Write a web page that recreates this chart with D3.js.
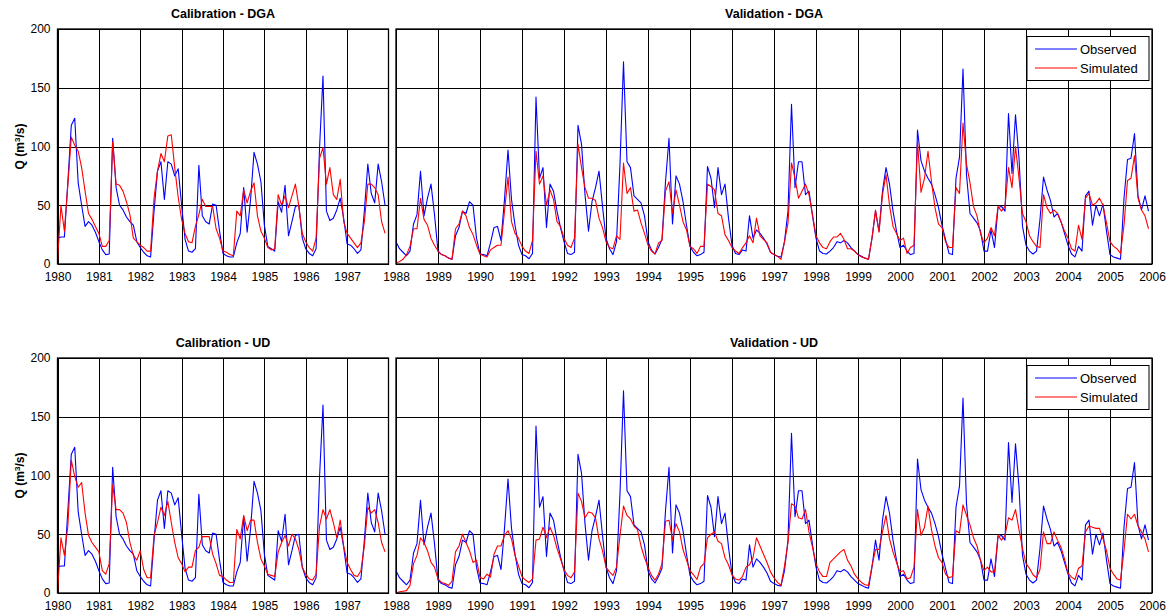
<!DOCTYPE html>
<html>
<head>
<meta charset="utf-8">
<script src="https://cdn.jsdelivr.net/npm/d3@7/dist/d3.min.js"></script>
<style>
  body { margin: 0; background: #fff; }
  svg { font-family: "Liberation Sans", Arial, sans-serif; }
</style>
</head>
<body>
<svg id="chart" width="1171" height="613"></svg>
<script>
// monthly discharge, m3/s
const calYears = [1980, 1988];
const valYears = [1988, 2006];
const yTicks = [0, 50, 100, 150, 200];

const calObserved = [
    22, 23, 23, 70, 118, 124, 69, 50, 32, 36, 33, 27,
    19, 12, 8, 8.5, 107, 65, 50, 46, 40, 36, 33, 19,
    14, 10, 7, 6, 45, 79, 87, 55, 87, 85, 75, 81,
    50, 21, 11, 10, 13, 84, 41, 36, 34, 51, 50, 28,
    9, 7, 6, 6, 18, 26, 65, 27, 55, 95, 85, 70,
    33, 15, 13, 11, 53, 44, 67, 24, 36, 49, 50, 22,
    13, 9, 7, 13, 99, 160, 45, 37, 39, 46, 56, 39,
    17, 16, 13, 9, 12, 45, 85, 60, 52, 85, 70, 50
];
const calSimDGA = [
    2, 50, 28, 67, 108, 101, 96, 82, 62, 43, 38, 32,
    26, 15, 15, 20, 104, 68, 67, 62, 53, 42, 22, 19,
    16, 14, 11, 11, 56, 79, 94, 87, 109, 110, 82, 57,
    38, 26, 19, 18, 32, 42, 55, 49, 49, 49, 30, 22,
    11, 10, 8, 7, 45, 41, 63, 52, 62, 69, 41, 28,
    22, 14, 12, 13, 59, 50, 58, 48, 58, 68, 49, 26,
    19, 14, 11, 22, 90, 99, 68, 82, 59, 55, 72, 36,
    26, 22, 18, 14, 18, 36, 68, 68, 65, 59, 36, 26
];
const calSimUD = [
    0, 47, 32, 57, 113, 99, 90, 94, 68, 49, 43, 39,
    35, 19, 16, 25, 92, 71, 71, 68, 60, 43, 32, 28,
    36, 20, 13, 13, 49, 60, 73, 66, 78, 60, 43, 30,
    25, 18, 22, 22, 36, 39, 48, 48, 48, 33, 25, 15,
    14, 11, 9, 9, 54, 46, 66, 53, 62, 62, 43, 29,
    23, 16, 15, 14, 35, 43, 49, 40, 50, 46, 37, 22,
    16, 12, 11, 16, 57, 71, 63, 71, 60, 47, 62, 40,
    26, 20, 15, 14, 19, 40, 73, 68, 71, 60, 43, 35
];

const valObserved = [
    19, 13, 10, 7, 11, 34, 42, 79, 41, 56, 68, 42,
    11, 8, 7, 5, 4, 24, 31, 45, 43, 53, 50, 22,
    8.5, 8, 7, 18, 31, 32, 20, 55, 97, 55, 33, 16,
    8, 7, 4.5, 9, 142, 73, 82, 31, 68, 62, 45, 31,
    19, 9, 8, 10, 118, 102, 59, 28, 53, 65, 79, 49,
    22, 13, 8, 19, 85, 172, 87, 82, 58, 55, 52, 41,
    19, 12, 8.5, 14, 21, 70, 107, 34, 75, 68, 53, 33,
    15, 10, 7, 8, 10, 83, 73, 48, 82, 59, 68, 39,
    16, 9, 8, 12, 11, 41, 22, 29, 26, 22, 17, 10,
    8, 6.5, 6, 19, 45, 136, 65, 87, 87, 59, 62, 41,
    22, 11, 9, 8.5, 11, 14, 19, 18, 20, 18, 14, 11,
    8, 6.5, 5, 4, 22, 45, 28, 62, 82, 68, 45, 28,
    14, 16, 11, 8, 9, 114, 88, 79, 73, 68, 59, 48,
    33, 21, 9, 8, 73, 91, 166, 76, 43, 39, 35, 28,
    11, 11, 29, 14, 48, 49, 45, 128, 77, 127, 90, 32,
    16, 11, 8.5, 11, 38, 74, 63, 54, 40, 43, 36, 26,
    16, 8.5, 6, 15, 11, 58, 62, 33, 50, 41, 51, 28,
    8, 6, 5, 4, 56, 89, 90, 111, 58, 46, 58, 45
];
const valSimDGA = [
    1, 2, 4, 8, 15, 30, 30, 56, 38, 33, 22, 16,
    11, 8, 7, 5, 4, 30, 34, 45, 41, 31, 25, 16,
    8.5, 7, 6, 12, 14, 16, 16, 45, 74, 36, 26, 22,
    15, 11, 9, 20, 96, 68, 75, 50, 63, 55, 36, 32,
    22, 16, 14, 22, 102, 82, 65, 56, 56, 54, 39, 31,
    19, 14, 13, 24, 21, 86, 60, 65, 45, 46, 35, 26,
    16, 11, 8.5, 18, 20, 62, 70, 43, 63, 50, 36, 29,
    15, 13, 9, 15, 15, 68, 66, 63, 43, 41, 25, 20,
    14, 11, 9, 14, 18, 24, 18, 39, 24, 21, 18, 10,
    8, 6.5, 4, 19, 35, 86, 73, 56, 62, 68, 59, 42,
    24, 18, 14, 13, 19, 23, 23, 26, 21, 13, 13, 11,
    8, 6, 5, 4, 22, 46, 27, 59, 76, 50, 32, 26,
    20, 22, 9, 14, 16, 104, 61, 73, 96, 70, 48, 34,
    31, 19, 14, 14, 65, 60, 120, 85, 69, 49, 41, 26,
    18, 22, 31, 24, 49, 45, 49, 82, 65, 100, 73, 43,
    36, 24, 19, 15, 14, 59, 48, 43, 46, 43, 36, 28,
    22, 13, 11, 33, 21, 56, 60, 50, 52, 56, 50, 35,
    19, 15, 13, 9, 33, 71, 73, 92, 56, 46, 41, 30
];
const valSimUD = [
    0, 1, 1.5, 2, 6.5, 25, 32, 47, 43, 36, 26, 22,
    12, 9, 8, 6.5, 10, 35, 40, 50, 43, 36, 26, 28,
    13.5, 12, 16, 13.5, 33, 40, 40, 49, 53, 46, 32, 23,
    14, 11, 9, 12, 45, 46, 56, 47, 56, 49, 38, 29,
    20, 15, 13, 18, 85, 78, 64, 69, 68, 64, 46, 36,
    22, 18, 15, 22, 49, 74, 66, 63, 57, 54, 40, 30,
    22, 15, 11, 16, 25, 61, 62, 45, 59, 52, 37, 28,
    19, 15.5, 11.5, 22, 25, 47, 50, 52, 44, 42, 30, 24,
    15.5, 12, 11, 14, 22, 24, 30, 47, 40, 33, 26, 18,
    13, 9, 6.5, 23, 43, 76, 74, 64, 63, 71, 52, 39,
    25, 18, 14, 14, 26, 29, 32, 35, 37, 28, 23, 16,
    12, 9, 7, 6.5, 23, 37, 37, 52, 66, 46, 35, 26,
    18, 19, 12, 13, 22, 71, 49, 56, 74, 54, 40, 30,
    26, 16, 13, 14, 53, 51, 75, 66, 58, 47, 40, 28,
    19, 22, 18, 18, 49, 45, 49, 64, 62, 71, 54, 38,
    25, 21, 15.5, 13, 20, 52, 42, 42, 52, 45, 39, 29,
    17, 13.5, 11.5, 21, 23, 52, 57, 56, 55, 55, 46, 36,
    21, 16, 12, 11, 36, 67, 63, 67, 57, 52, 46, 35
];

const seriesNames = ["Observed", "Simulated"];
const seriesColors = ["#0000ff", "#ff0000"];

// layout of the four axes
const plotH = 235;
const panels = [
    {title: "Calibration - DGA", years: calYears, obs: calObserved, sim: calSimDGA, left: 57.5, right: 388.5, top: 29, first: true},
    {title: "Validation - DGA", years: valYears, obs: valObserved, sim: valSimDGA, left: 396, right: 1152, top: 29, first: false},
    {title: "Calibration - UD", years: calYears, obs: calObserved, sim: calSimUD, left: 57.5, right: 388.5, top: 358, first: true},
    {title: "Validation - UD", years: valYears, obs: valObserved, sim: valSimUD, left: 396, right: 1152, top: 358, first: false}
];

const svg = d3.select("#chart");

function drawPanel(p) {
    var x = d3.scaleLinear().domain(p.years).range([p.left, p.right]);
    var y = d3.scaleLinear().domain([0, 200]).range([p.top + plotH, p.top]);
    var g = svg.append("g");

    // x grid + labels (left panel stops before 1988, the right panel prints it)
    var xt = d3.range(p.years[0], p.years[1] + (p.first ? 0 : 1));
    var xa = g.append("g")
        .attr("transform", `translate(0,${p.top + plotH})`)
        .call(d3.axisBottom(x).tickValues(xt).tickFormat(d3.format("d"))
            .tickSizeInner(-plotH).tickSizeOuter(0).tickPadding(8));
    xa.select(".domain").remove();
    xa.selectAll("line").attr("stroke", "#000").attr("shape-rendering", "crispEdges");
    xa.selectAll("text").attr("font-size", 12).attr("fill", "#000")
        .attr("font-family", "'Liberation Sans', Arial, sans-serif");

    // y grid, labels only on the left axes
    var ya = g.append("g")
        .attr("transform", `translate(${p.left},0)`)
        .call(d3.axisLeft(y).tickValues(yTicks)
            .tickFormat(p.first ? d3.format("d") : "")
            .tickSizeInner(-(p.right - p.left)).tickSizeOuter(0).tickPadding(7));
    ya.select(".domain").remove();
    ya.selectAll("line").attr("stroke", "#000").attr("shape-rendering", "crispEdges");
    ya.selectAll("text").attr("font-size", 12).attr("fill", "#000")
        .attr("font-family", "'Liberation Sans', Arial, sans-serif");

    // series
    var line = d3.line()
        .x(function(d, i) { return x(p.years[0] + i / 12); })
        .y(function(d) { return y(d); });
    [p.obs, p.sim].forEach(function(s, k) {
        g.append("path").datum(s)
            .attr("d", line)
            .attr("fill", "none")
            .attr("stroke", seriesColors[k])
            .attr("stroke-width", 1.1)
            .attr("stroke-linejoin", "round");
    });

    // box
    g.append("rect")
        .attr("x", p.left).attr("y", p.top)
        .attr("width", p.right - p.left).attr("height", plotH)
        .attr("fill", "none").attr("stroke", "#000").attr("stroke-width", 1.3);

    // title
    g.append("text")
        .attr("x", (p.left + p.right) / 2).attr("y", p.top - 11)
        .attr("text-anchor", "middle").attr("font-size", 12.5).attr("font-weight", "bold")
        .text(p.title);

    if (p.first) {
        // y label sits left of the tick labels
        var lab = g.append("text")
            .attr("transform", `translate(24,${p.top + plotH / 2}) rotate(-90)`)
            .attr("text-anchor", "middle").attr("font-size", 12).attr("font-weight", "bold");
        lab.append("tspan").text("Q (m");
        lab.append("tspan").attr("dy", -4).attr("font-size", 8).text("3");
        lab.append("tspan").attr("dy", 4).text("/s)");
    } else {
        // legend
        var lx = p.right - 125, ly = p.top + 7.5;
        var lg = g.append("g");
        lg.append("rect").attr("x", lx).attr("y", ly).attr("width", 122).attr("height", 44)
            .attr("fill", "#fff").attr("stroke", "#000").attr("stroke-width", 1);
        seriesNames.forEach(function(name, k) {
            var yy = ly + 12.5 + k * 19;
            lg.append("line").attr("x1", lx + 8).attr("x2", lx + 50)
                .attr("y1", yy).attr("y2", yy)
                .attr("stroke", seriesColors[k]).attr("stroke-width", 1.1);
            lg.append("text").attr("x", lx + 53).attr("y", yy + 4.5)
                .attr("font-size", 13).text(name);
        });
    }
}

panels.forEach(drawPanel);
</script>
</body>
</html>
